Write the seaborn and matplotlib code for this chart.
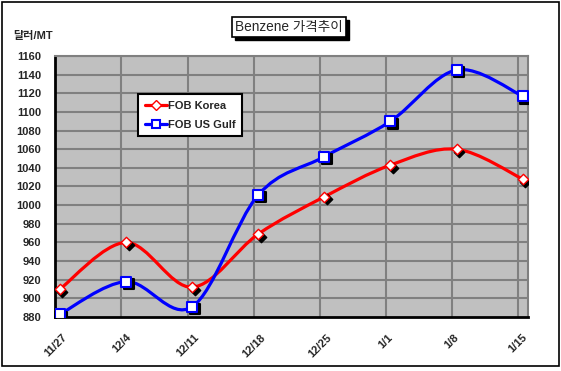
import numpy as np
import pandas as pd
import matplotlib
matplotlib.use("Agg")
import matplotlib.pyplot as plt
import seaborn as sns
from matplotlib.path import Path
from matplotlib.patches import PathPatch, Rectangle
from matplotlib.lines import Line2D
from matplotlib.transforms import offset_copy

# --- data ---
dates = ["11/27", "12/4", "12/11", "12/18", "12/25", "1/1", "1/8", "1/15"]
korea = [910, 960, 912, 969, 1009, 1043, 1060, 1028]
us_gulf = [883, 918, 891, 1011, 1052, 1090, 1145, 1117]
y_ticks = list(range(880, 1161, 20))

RED = "#FF0000"
BLUE = "#0000FF"
GRID = "#808080"
PLOT_BG = "#C0C0C0"

sns.set_style("white")
plt.rcParams["font.family"] = ["Liberation Sans", "Noto Sans CJK KR"]

df = pd.DataFrame({
    "pos": list(range(len(dates))) * 2,
    "price": korea + us_gulf,
    "series": ["FOB Korea"] * len(dates) + ["FOB US Gulf"] * len(dates),
})


def smooth_path(xs, ys):
    # Excel-style smoothed line: bezier segments through the points
    pts = np.column_stack([xs, ys]).astype(float)
    n = len(pts)
    verts = [pts[0]]
    codes = [Path.MOVETO]
    for i in range(n - 1):
        p0 = pts[max(i - 1, 0)]
        p1 = pts[i]
        p2 = pts[i + 1]
        p3 = pts[min(i + 2, n - 1)]
        verts += [p1 + (p2 - p0) / 6, p2 - (p3 - p1) / 6, p2]
        codes += [Path.CURVE4] * 3
    return Path(verts, codes)


fig = plt.figure(figsize=(5.61, 3.71), dpi=100)
fig.patch.set_facecolor("white")
W, H = 561, 371
ax = fig.add_axes([55 / W, 1 - 317 / H, (528 - 55) / W, (317 - 56) / H])
ax.set_facecolor(PLOT_BG)

x = np.arange(len(dates))

# grid lines
grid_x = x - 0.07
for gx in grid_x[1:]:
    ax.axvline(gx, color=GRID, lw=1.5, zorder=1)
for gy in y_ticks[1:]:
    ax.axhline(gy, color=GRID, lw=1.5, zorder=1)

# smoothed lines
for vals, col in [(korea, RED), (us_gulf, BLUE)]:
    ax.add_patch(PathPatch(smooth_path(x, vals), facecolor="none",
                           edgecolor=col, lw=2.3, zorder=3,
                           capstyle="round", joinstyle="round"))

# marker shadows
shadow = offset_copy(ax.transData, fig=fig, x=2.5, y=-2.5, units="dots")
sub_k = df[df.series == "FOB Korea"]
sub_u = df[df.series == "FOB US Gulf"]
sns.scatterplot(data=sub_k, x="pos", y="price", marker="D", s=28, color="black",
                edgecolor="black", linewidth=1, transform=shadow, ax=ax,
                legend=False, zorder=4)
sns.scatterplot(data=sub_u, x="pos", y="price", marker="s", s=46, color="black",
                edgecolor="black", linewidth=1.5, transform=shadow, ax=ax,
                legend=False, zorder=4)
# markers
sns.scatterplot(data=sub_k, x="pos", y="price", marker="D", s=28, color="white",
                edgecolor=RED, linewidth=1, ax=ax, legend=False, zorder=5)
sns.scatterplot(data=sub_u, x="pos", y="price", marker="s", s=46, color="white",
                edgecolor=BLUE, linewidth=1.5, ax=ax, legend=False, zorder=5)

ax.set_xlim(-0.075, 7.08)
ax.set_ylim(880, 1160)
ax.set_xlabel("")
ax.set_ylabel("")

ax.set_yticks(y_ticks)
ax.set_yticklabels([str(v) for v in y_ticks], fontsize=8, fontweight="bold")
ax.set_xticks(grid_x)
ax.set_xticklabels(dates, fontsize=8, fontweight="bold", rotation=45,
                   ha="center", va="top")
ax.tick_params(axis="y", direction="in", length=4, width=1.2, pad=10, left=True)
ax.tick_params(axis="x", direction="in", length=4, width=1.2, pad=11, bottom=True)

for side in ["left", "bottom"]:
    ax.spines[side].set_color("black")
    ax.spines[side].set_linewidth(2)
for side in ["top", "right"]:
    ax.spines[side].set_color(GRID)
    ax.spines[side].set_linewidth(1.5)

# legend
handles = [
    Line2D([], [], color=RED, lw=2.3, marker="D", markersize=5,
           markerfacecolor="white", markeredgecolor=RED, markeredgewidth=1),
    Line2D([], [], color=BLUE, lw=2.3, marker="s", markersize=6,
           markerfacecolor="white", markeredgecolor=BLUE, markeredgewidth=1.5),
]
leg = ax.legend(handles, ["FOB Korea", "FOB US Gulf"], loc="upper left",
                bbox_to_anchor=((138 - 55) / 473, (317 - 94) / 261),
                prop={"size": 8, "weight": "bold"}, frameon=True,
                fancybox=False, handlelength=2.0, handletextpad=0.1,
                borderpad=0.6, labelspacing=0.8, borderaxespad=0)
leg.get_frame().set_edgecolor("black")
leg.get_frame().set_linewidth(1.5)
leg.get_frame().set_facecolor("white")
leg.get_frame().set_alpha(1)
leg.set_zorder(10)

# title box, with a black drop shadow behind it
title = fig.text(289 / W, 1 - 27 / H, "Benzene 가격추이", ha="center",
                 va="center", fontsize=9.8, zorder=3,
                 bbox=dict(boxstyle="square,pad=0.2", facecolor="white",
                           edgecolor="black", lw=1.2))
fig.canvas.draw()
bb = title.get_bbox_patch().get_window_extent()
(x0, y0), (x1, y1) = fig.transFigure.inverted().transform(
    [[bb.x0 + 3, bb.y0 - 3], [bb.x1 + 3, bb.y1 - 3]])
fig.add_artist(Rectangle((x0, y0), x1 - x0, y1 - y0, transform=fig.transFigure,
                         facecolor="black", edgecolor="black", zorder=2))

# unit label
fig.text(13 / W, 1 - 36 / H, "달러/MT", ha="left", va="center",
         fontsize=8, fontweight="bold")

# outer border
fig.add_artist(Rectangle((1.5 / W, 1 - 365.5 / H), 557 / W, 364 / H,
                         transform=fig.transFigure, fill=False,
                         edgecolor="black", lw=1.2))

fig.savefig("out.png", dpi=100)
